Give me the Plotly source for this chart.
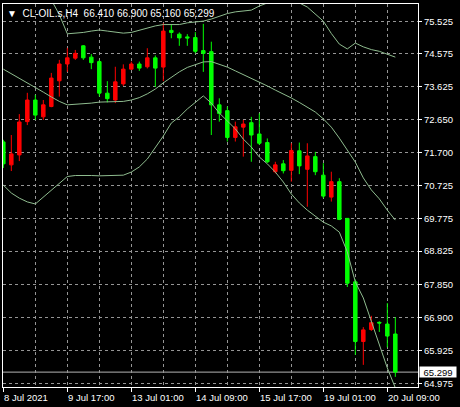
import plotly.graph_objects as go

# ---- data: CL-OIL.s, H4 bars (index 0 = 8 Jul 2021 09:00) ----
bar_index = list(range(50))

opens = [72.01, 71.34, 71.63, 72.60, 73.23, 72.74, 73.04, 73.79, 74.28, 74.45,
         74.81, 74.48, 74.35, 73.43, 73.23, 73.70, 74.13, 74.28, 74.20, 74.46,
         74.19, 75.26, 75.15, 75.07, 75.05, 74.67, 74.64, 73.09, 72.92, 72.14,
         72.44, 72.57, 72.24, 71.99, 71.14, 71.37, 71.18, 71.75, 71.21, 71.58,
         71.04, 70.40, 70.85, 69.78, 67.93, 66.19, 66.54, 66.75, 66.70, 66.410]
highs = [72.07, 72.21, 72.82, 73.44, 73.38, 73.23, 74.02, 74.40, 74.75, 74.69,
         74.83, 74.57, 74.40, 73.78, 74.20, 74.27, 74.35, 74.35, 74.74, 74.53,
         75.47, 75.42, 75.20, 75.15, 75.21, 75.45, 74.93, 73.28, 73.04, 72.60,
         72.65, 72.74, 72.84, 72.11, 71.43, 71.48, 71.97, 71.99, 71.97, 71.72,
         71.39, 71.14, 70.95, 69.79, 68.00, 66.61, 66.94, 66.78, 67.31, 66.900]
lows = [71.25, 71.16, 71.45, 72.50, 72.65, 72.65, 73.02, 73.33, 74.05, 74.40,
        74.40, 74.13, 73.33, 73.16, 73.14, 73.64, 74.11, 74.08, 74.15, 73.61,
        73.78, 75.03, 74.81, 74.81, 74.59, 74.05, 72.21, 72.60, 72.02, 72.02,
        71.58, 71.43, 71.92, 71.39, 71.09, 71.09, 70.85, 71.07, 70.12, 71.04,
        70.37, 70.27, 69.73, 67.78, 65.80, 65.51, 66.50, 66.47, 66.02, 65.160]
closes = [71.37, 71.66, 72.59, 73.23, 72.79, 73.09, 73.87, 74.28, 74.46, 74.59,
          74.46, 74.32, 73.43, 73.27, 73.76, 74.13, 74.28, 74.16, 74.46, 74.16,
          75.24, 75.20, 75.04, 75.04, 74.65, 74.59, 73.09, 72.84, 72.14, 72.45,
          72.53, 72.21, 71.97, 71.43, 71.34, 71.17, 71.76, 71.31, 71.60, 71.14,
          70.43, 70.85, 69.75, 67.89, 66.19, 66.53, 66.74, 66.73, 66.35, 65.299]

# Bollinger Bands (upper / middle / lower)
bb_upper = [77.50, 77.48, 77.37, 77.22, 77.02, 76.52, 76.15, 75.72, 75.16, 75.17,
            75.20, 75.24, 75.27, 75.24, 75.20, 75.18, 75.20, 75.27, 75.33, 75.39,
            75.43, 75.42, 75.43, 75.48, 75.50, 75.53, 75.59, 75.68, 75.75, 75.80,
            75.83, 75.85, 75.97, 76.06, 76.10, 76.12, 76.10, 76.06, 75.94, 75.74,
            75.53, 75.17, 74.86, 74.72, 74.89, 74.78, 74.70, 74.65, 74.57, 74.48]
bb_middle = [74.13, 74.00, 73.87, 73.74, 73.61, 73.46, 73.32, 73.19, 73.09, 73.10,
             73.11, 73.14, 73.17, 73.17, 73.17, 73.19, 73.23, 73.30, 73.41, 73.55,
             73.73, 73.90, 74.05, 74.18, 74.27, 74.34, 74.35, 74.28, 74.19, 74.08,
             73.97, 73.87, 73.77, 73.64, 73.52, 73.41, 73.29, 73.16, 73.03, 72.88,
             72.68, 72.44, 72.12, 71.77, 71.42, 70.96, 70.61, 70.35, 70.02, 69.73]
bb_lower = [70.75, 70.52, 70.37, 70.26, 70.20, 70.40, 70.61, 70.81, 71.00, 71.03,
            71.04, 71.03, 71.02, 71.03, 71.04, 71.04, 71.13, 71.28, 71.51, 71.83,
            72.18, 72.56, 72.74, 72.97, 73.17, 73.35, 73.14, 72.85, 72.62, 72.39,
            72.09, 71.86, 71.57, 71.37, 71.13, 70.84, 70.49, 70.23, 70.02, 69.85,
            69.67, 69.56, 69.38, 68.80, 67.93, 67.46, 66.76, 66.09, 65.42, 64.84]

date_ticks = [0, 8, 16, 24, 32, 40, 48]
date_labels = ["8 Jul 2021", "9 Jul 17:00", "13 Jul 01:00", "14 Jul 09:00",
               "15 Jul 17:00", "19 Jul 01:00", "20 Jul 09:00"]
grid_minor = [4, 12, 20, 28, 36, 44]
price_ticks = [75.525, 74.575, 73.625, 72.650, 71.700, 70.725, 69.775,
               68.825, 67.850, 66.900, 65.925, 64.975]
price_labels = ["75.525", "74.575", "73.625", "72.650", "71.700", "70.725",
                "69.775", "68.825", "67.850", "66.900", "65.925", "64.975"]
symbol = "CL-OIL.s,H4"
last_price = closes[-1]

# ---- styling ----
FONT = "Liberation Sans, Arial, sans-serif"
UP = "#ff0000"      # rising bar
DOWN = "#00ff00"    # falling bar
BAND = "#8fbc8f"
GRID = "#959595"
W, H = 460, 407
ML, MR, MT, MB = 3, 42, 4, 20

fig = go.Figure()

fig.add_trace(go.Candlestick(
    x=bar_index, open=opens, high=highs, low=lows, close=closes,
    increasing=dict(line=dict(color=UP, width=1), fillcolor=UP),
    decreasing=dict(line=dict(color=DOWN, width=1), fillcolor=DOWN),
    whiskerwidth=0, showlegend=False, hoverinfo="skip",
))

for band in (bb_upper, bb_middle, bb_lower):
    fig.add_trace(go.Scatter(
        x=bar_index, y=band, mode="lines",
        line=dict(color=BAND, width=1), showlegend=False, hoverinfo="skip",
    ))

# current price line
fig.add_shape(type="line", xref="paper", x0=0, x1=1, yref="y",
              y0=last_price, y1=last_price,
              line=dict(color="#b4b4b4", width=1), layer="below")

annotations = []
# header with last bar OHLC
header = ("\u25bc\u00a0\u00a0" + symbol + "\u00a0\u00a0"
          + f"{opens[-1]:.3f} {highs[-1]:.3f} {lows[-1]:.3f} {closes[-1]:.3f}")
annotations.append(dict(
    text=header, xref="paper", yref="paper", x=0, y=1,
    xanchor="left", yanchor="top", xshift=2, yshift=-2, showarrow=False,
    font=dict(family=FONT, size=10, color="#ffffff"),
))
# date labels, left-aligned to their tick
for k, lab in zip(date_ticks, date_labels):
    annotations.append(dict(
        text=lab, xref="x", yref="paper", x=k, y=0,
        xanchor="left", yanchor="top", xshift=-1, yshift=-3, showarrow=False,
        font=dict(family=FONT, size=9.5, color="#ffffff"),
    ))
# last price tag on the price scale
annotations.append(dict(
    text=f"{last_price:.3f}", xref="paper", yref="y", x=1, y=last_price,
    xanchor="left", yanchor="middle", xshift=1, showarrow=False,
    bgcolor="#ffffff", width=36, height=10, borderpad=0,
    font=dict(family=FONT, size=9.5, color="#000000"),
))

fig.update_layout(
    width=W, height=H,
    margin=dict(l=ML, r=MR, t=MT, b=MB, pad=0),
    paper_bgcolor="#000000", plot_bgcolor="#000000",
    boxgap=0.38,
    showlegend=False,
    annotations=annotations,
    font=dict(family=FONT, size=9.5, color="#ffffff"),
)

fig.update_xaxes(
    range=[-0.04, 51.835], fixedrange=True,
    rangeslider=dict(visible=False),
    tickmode="array", tickvals=date_ticks, showticklabels=False,
    ticks="outside", ticklen=4, tickcolor="#ffffff", tickwidth=1,
    showgrid=True, gridcolor=GRID, griddash="3px,3px", gridwidth=1,
    minor=dict(tickmode="array", tickvals=grid_minor, showgrid=True,
               gridcolor=GRID, griddash="3px,3px", gridwidth=1, ticks=""),
    showline=True, linecolor="#ffffff", linewidth=1, mirror=True,
    zeroline=False,
)
fig.update_yaxes(
    range=[64.865, 76.029], fixedrange=True, side="right",
    tickmode="array", tickvals=price_ticks, ticktext=price_labels,
    ticks="outside", ticklen=3, tickcolor="#ffffff", tickwidth=1,
    tickfont=dict(family=FONT, size=9.5, color="#ffffff"),
    showgrid=True, gridcolor=GRID, griddash="3px,3px", gridwidth=1,
    showline=True, linecolor="#ffffff", linewidth=1, mirror=True,
    zeroline=False,
)

fig.write_html("out.html")
